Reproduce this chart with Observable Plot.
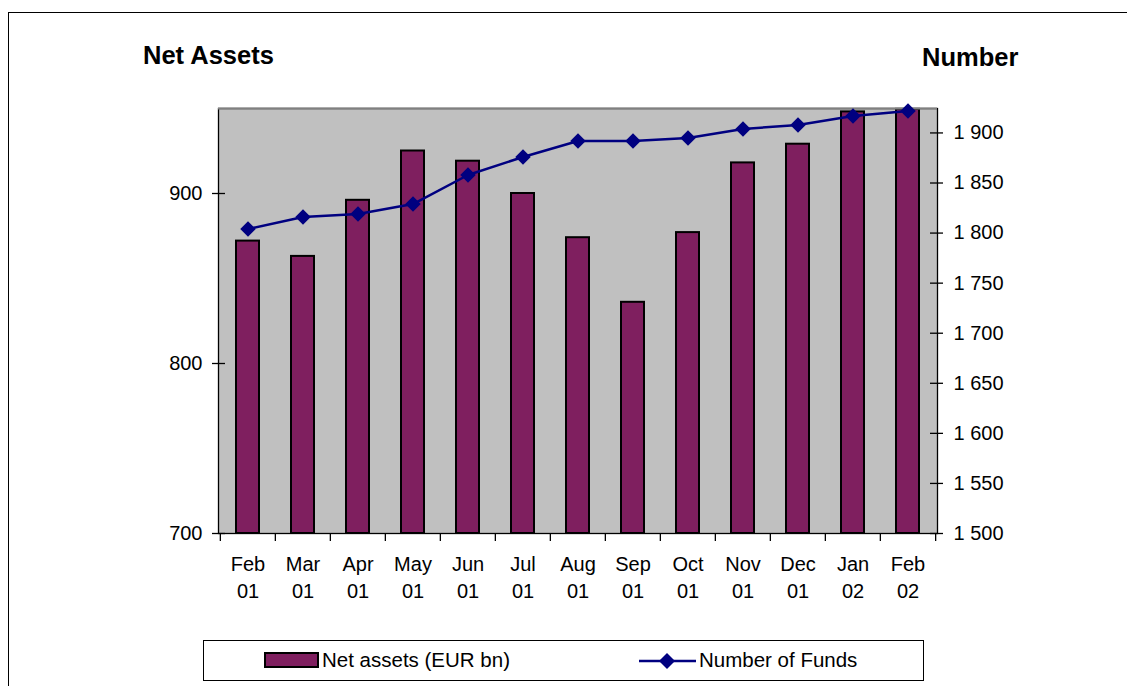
<!DOCTYPE html>
<html>
<head>
<meta charset="utf-8">
<script src="https://cdn.jsdelivr.net/npm/d3@7"></script>
<script src="https://cdn.jsdelivr.net/npm/@observablehq/plot@0.6"></script>
<style>
  body { margin: 0; background: #fff; font-family: "Liberation Sans", Arial, sans-serif; }
  #wrap { position: relative; width: 1127px; height: 686px; overflow: hidden; background: #fff; }
  #outer { position: absolute; left: 8px; top: 12px; width: 1300px; height: 900px; border-left: 1.5px solid #000; border-top: 1.5px solid #000; }
  #chart { position: absolute; left: 0; top: 0; }
  .title { position: absolute; font-weight: bold; font-size: 25.5px; line-height: 1; color: #000; }
  #legend { position: absolute; left: 203px; top: 640px; width: 721px; height: 41px; border: 1px solid #000; box-sizing: border-box; background: #fff; }
  #legend .txt { position: absolute; top: 8px; font-size: 20.5px; line-height: 1.1; color: #000; white-space: nowrap; }
</style>
</head>
<body>
<div id="wrap">
  <div id="outer"></div>
  <div id="chart"></div>
  <div class="title" id="t1" style="left:143px; top:43px;">Net Assets</div>
  <div class="title" id="t2" style="left:922px; top:45px;">Number</div>
  <div id="legend">
    <div style="position:absolute; left:60px; top:11px; width:55px; height:16px; background:#7f1f5f; border:2px solid #000; box-sizing:border-box;"></div>
    <span class="txt" style="left:118px;">Net assets (EUR bn)</span>
    <svg style="position:absolute; left:434px; top:9px;" width="60" height="22">
      <line x1="1" y1="11" x2="58" y2="11" stroke="#000080" stroke-width="2.5"></line>
      <path d="M29,3 L37,11 L29,19 L21,11 Z" fill="#000080"></path>
    </svg>
    <span class="txt" style="left:495px;">Number of Funds</span>
  </div>
</div>
<script>
// ---- data ----
const months = ["Feb 01","Mar 01","Apr 01","May 01","Jun 01","Jul 01","Aug 01","Sep 01","Oct 01","Nov 01","Dec 01","Jan 02","Feb 02"];
const netAssets = [872, 863, 896, 925, 919, 900, 874, 836, 877, 918, 929, 948, 949.5];
const numberOfFunds = [1804, 1816, 1819, 1829, 1858, 1876, 1892, 1892, 1895, 1904, 1908, 1917, 1922];
const leftTicks = [700, 800, 900];
const rightTicks = [1500, 1550, 1600, 1650, 1700, 1750, 1800, 1850, 1900];

// ---- scales ----
const L0 = 700, L1 = 950, R0 = 1500, R1 = 1924.4;
const toLeft = v => L0 + (v - R0) * (L1 - L0) / (R1 - R0);
const fromLeft = v => R0 + (v - L0) * (R1 - R0) / (L1 - L0);
const fmtRight = v => { const n = Math.round(v); const s = String(n); return s.length > 3 ? s.slice(0, -3) + " " + s.slice(-3) : s; };

const table = months.map((m, i) => ({month: m, assets: netAssets[i], funds: numberOfFunds[i]}));

const W = 1127, H = 686, mL = 218, mR = 190, mT = 108, mB = 153;
const plotW = W - mL - mR, plotH = H - mT - mB;
const step = plotW / months.length;

const chart = Plot.plot({
  width: W, height: H,
  marginLeft: mL, marginRight: mR, marginTop: mT, marginBottom: mB,
  style: {fontFamily: "'Liberation Sans', Arial, sans-serif", fontSize: "20px", color: "#000", background: "transparent", overflow: "visible"},
  x: {domain: months, paddingInner: 0.58, paddingOuter: 0.29, label: null},
  y: {domain: [L0, L1], label: null},
  marks: [
    Plot.frame({fill: "#c0c0c0", stroke: "none"}),
    Plot.barY(table, {x: "month", y1: L0, y2: "assets", fill: "#7f1f5f", stroke: "#000", strokeWidth: 2}),
    Plot.frame({stroke: "#000", strokeWidth: 1.3}),
    Plot.ruleY([L1], {stroke: "#808080", strokeWidth: 2}),
    Plot.line(table, {x: "month", y: d => toLeft(d.funds), stroke: "#000080", strokeWidth: 2.5}),
    Plot.dot(table, {x: "month", y: d => toLeft(d.funds), symbol: "diamond2", r: 7, fill: "#000080", stroke: "none"}),
    // crossing tick marks
    Plot.tickY(leftTicks, {y: d => d, insetLeft: -6, insetRight: plotW - 7, stroke: "#000", strokeWidth: 1.3}),
    Plot.tickY(rightTicks, {y: d => toLeft(d), insetLeft: plotW - 7, insetRight: -6, stroke: "#000", strokeWidth: 1.3}),
    Plot.tickX(months, {x: d => d, dx: -step / 2, insetTop: plotH, insetBottom: -8, stroke: "#000", strokeWidth: 1.3}),
    Plot.tickX([months[months.length - 1]], {x: d => d, dx: step / 2, insetTop: plotH, insetBottom: -8, stroke: "#000", strokeWidth: 1.3}),
    // axis labels
    Plot.axisY({ticks: leftTicks, tickSize: 0, tickPadding: 16, fontSize: 20, label: null}),
    Plot.axisY({anchor: "right", ticks: rightTicks.map(toLeft), tickFormat: v => fmtRight(fromLeft(v)), tickSize: 0, tickPadding: 16, fontSize: 20, label: null}),
    Plot.axisX({tickSize: 0, tickPadding: 18, tickFormat: d => d.replace(" ", "\n"), lineHeight: 1.35, fontSize: 20, label: null})
  ]
});
document.getElementById("chart").appendChild(chart);
</script>
</body>
</html>
